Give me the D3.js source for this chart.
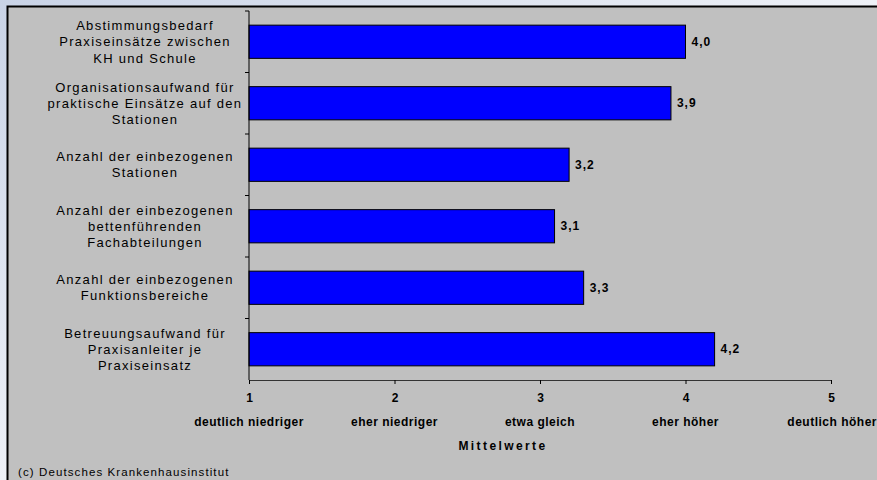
<!DOCTYPE html>
<html>
<head>
<meta charset="utf-8">
<script src="https://cdn.jsdelivr.net/npm/d3@7"></script>
<style>
  html, body { margin: 0; padding: 0; }
  body { width: 877px; height: 480px; overflow: hidden; }
  text { font-family: "Liberation Sans", Arial, sans-serif; fill: #000; }
</style>
</head>
<body>
<div id="chart"></div>
<script>
// categories (top to bottom), each as wrapped lines
const categories = [
  ['Abstimmungsbedarf', 'Praxiseinsätze zwischen', 'KH und Schule'],
  ['Organisationsaufwand für', 'praktische Einsätze auf den', 'Stationen'],
  ['Anzahl der einbezogenen', 'Stationen'],
  ['Anzahl der einbezogenen', 'bettenführenden', 'Fachabteilungen'],
  ['Anzahl der einbezogenen', 'Funktionsbereiche'],
  ['Betreuungsaufwand für', 'Praxisanleiter je', 'Praxiseinsatz']
];
const values = [4.0, 3.9, 3.2, 3.1, 3.3, 4.2];
const tickValues = [1, 2, 3, 4, 5];
const tickLabels = ['deutlich niedriger', 'eher niedriger', 'etwa gleich', 'eher höher', 'deutlich höher'];
const axisTitle = 'Mittelwerte';
const credit = '(c) Deutsches Krankenhausinstitut';

const width = 877;
const height = 480;

const data = categories.map((c, i) => ({ key: 'c' + i, lines: c, value: values[i] }));

const svg = d3.select('#chart').append('svg')
  .attr('width', width)
  .attr('height', height);

// soft background outside the panel
const defs = svg.append('defs');
const grad = defs.append('linearGradient').attr('id', 'bg')
  .attr('x1', 0).attr('y1', 0).attr('x2', 1).attr('y2', 1);
grad.append('stop').attr('offset', '0%').attr('stop-color', '#c9d3e6');
grad.append('stop').attr('offset', '50%').attr('stop-color', '#eef1f7');
grad.append('stop').attr('offset', '100%').attr('stop-color', '#b9c4dc');
svg.append('rect').attr('width', width).attr('height', height).attr('fill', 'url(#bg)');

// grey panel
svg.append('rect')
  .attr('x', 7.5).attr('y', 6.5)
  .attr('width', width).attr('height', height)
  .attr('fill', '#c0c0c0')
  .attr('stroke', '#000')
  .attr('stroke-width', 2);

const x = d3.scaleLinear().domain([1, 5]).range([249, 831]);
const y = d3.scaleBand().domain(data.map(d => d.key))
  .range([11, 380])
  .paddingInner(0.46)
  .paddingOuter(0.23);

// bars
svg.selectAll('.bar')
  .data(data)
  .enter().append('rect')
  .attr('class', 'bar')
  .attr('x', x(1))
  .attr('y', d => y(d.key))
  .attr('width', d => x(d.value) - x(1))
  .attr('height', y.bandwidth())
  .attr('fill', '#0000ff')
  .attr('stroke', '#000')
  .attr('stroke-width', 1);

// value labels
svg.selectAll('.val')
  .data(data)
  .enter().append('text')
  .attr('class', 'val')
  .attr('x', d => x(d.value) + 6)
  .attr('y', d => y(d.key) + y.bandwidth() / 2)
  .attr('dy', '0.35em')
  .style('font-size', '12px')
  .style('font-weight', 'bold')
  .style('letter-spacing', '1px')
  .text(d => d3.format('.1f')(d.value).replace('.', ','));

// y axis line and ticks at band boundaries
const y0 = y.range()[0];
const y1 = y.range()[1];
svg.append('line')
  .attr('x1', x(1)).attr('x2', x(1))
  .attr('y1', y0).attr('y2', y1)
  .attr('stroke', '#000');
svg.selectAll('.ytick')
  .data(d3.range(data.length))
  .enter().append('line')
  .attr('x1', x(1) - 4).attr('x2', x(1))
  .attr('y1', i => y0 + i * y.step())
  .attr('y2', i => y0 + i * y.step())
  .attr('stroke', '#000');

// category labels
const labels = svg.selectAll('.cat')
  .data(data)
  .enter().append('text')
  .attr('class', 'cat')
  .attr('text-anchor', 'middle')
  .style('font-size', '13px')
  .style('letter-spacing', '1.3px');
labels.each(function(d) {
  const n = d.lines.length;
  const cy = y(d.key) + y.bandwidth() / 2;
  d3.select(this).selectAll('tspan')
    .data(d.lines)
    .enter().append('tspan')
    .attr('x', 145)
    .attr('y', (l, i) => cy + (i - (n - 1) / 2) * 16.3)
    .attr('dy', '0.35em')
    .text(l => l);
});

// x axis
const xAxis = svg.append('g')
  .attr('transform', `translate(0,${y1})`)
  .call(d3.axisBottom(x).tickValues(tickValues).tickSize(4).tickFormat(d3.format('d')));
xAxis.select('.domain').attr('stroke', '#333');
xAxis.selectAll('.tick line').attr('stroke', '#000');
xAxis.selectAll('.tick text')
  .attr('y', 21.5)
  .attr('dy', '0')
  .style('font-family', '"Liberation Sans", Arial, sans-serif')
  .style('font-size', '12px')
  .style('font-weight', 'bold')
  .attr('fill', '#000');

// descriptive tick labels
svg.selectAll('.tlab')
  .data(tickValues)
  .enter().append('text')
  .attr('class', 'tlab')
  .attr('x', (d, i) => i === tickValues.length - 1 ? width : x(d))
  .attr('y', 426)
  .attr('text-anchor', (d, i) => i === tickValues.length - 1 ? 'end' : 'middle')
  .style('font-size', '12px')
  .style('font-weight', 'bold')
  .style('letter-spacing', '0.5px')
  .text((d, i) => tickLabels[i]);

// axis title
svg.append('text')
  .attr('x', 503)
  .attr('y', 450)
  .attr('text-anchor', 'middle')
  .style('font-size', '12px')
  .style('font-weight', 'bold')
  .style('letter-spacing', '2.4px')
  .text(axisTitle);

// credit
svg.append('text')
  .attr('x', 18)
  .attr('y', 476)
  .style('font-size', '11.5px')
  .style('letter-spacing', '1.1px')
  .text(credit);
</script>
</body>
</html>
